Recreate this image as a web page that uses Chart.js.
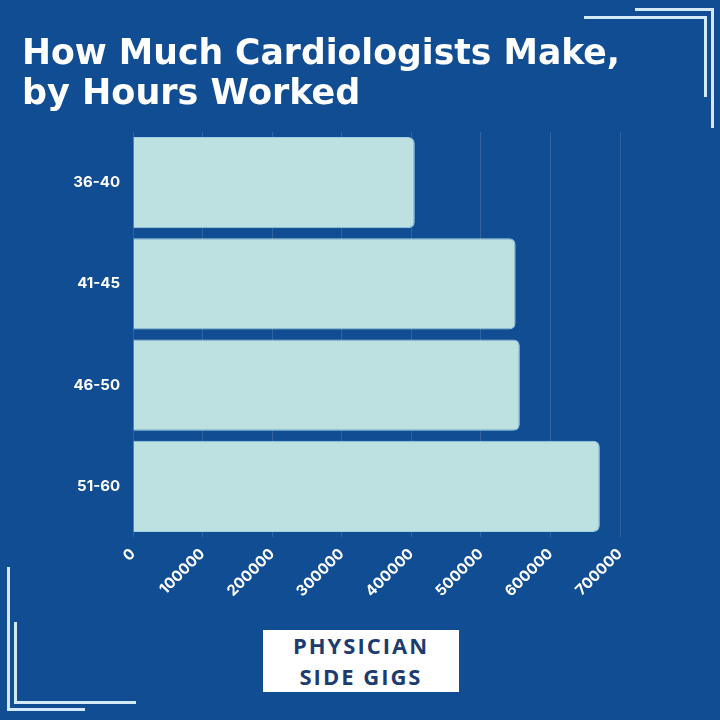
<!DOCTYPE html>
<html>
<head>
<meta charset="utf-8">
<script src="https://cdn.jsdelivr.net/npm/chart.js@4/dist/chart.umd.min.js"></script>
<style>
  html, body { margin: 0; padding: 0; }
  body { width: 720px; height: 720px; background: #114d93; position: relative; overflow: hidden; }
  #wrap { position: absolute; left: 0; top: 0; width: 720px; height: 720px; }
  .ln { position: absolute; background: #d3e9f8; }
  #logo { position: absolute; left: 263px; top: 630px; width: 196px; height: 62px; background: #ffffff;
          font-family: "Open Sans", sans-serif; font-weight: 700; font-size: 22px; color: #1c3c70;
          text-align: center; line-height: 31px; letter-spacing: 2px; box-sizing: border-box; padding-top: 0px; }
</style>
</head>
<body>
<div id="wrap"><canvas id="c" width="720" height="720"></canvas></div>
<!-- top-right corner -->
<div class="ln" style="left:635px; top:8px; width:78px; height:3px;"></div>
<div class="ln" style="left:711px; top:8px; width:3px; height:120px;"></div>
<div class="ln" style="left:584px; top:16px; width:123px; height:3px;"></div>
<div class="ln" style="left:704px; top:16px; width:3px; height:81px;"></div>
<!-- bottom-left corner -->
<div class="ln" style="left:7px; top:567px; width:3px; height:143px;"></div>
<div class="ln" style="left:7px; top:708px; width:78px; height:3px;"></div>
<div class="ln" style="left:14px; top:622px; width:3px; height:82px;"></div>
<div class="ln" style="left:14px; top:701px; width:122px; height:3px;"></div>
<div id="logo">PHYSICIAN<br>SIDE GIGS</div>
<script>
const titleLines = ["How Much Cardiologists Make,", "by Hours Worked"];
const categories = ["36-40", "41-45", "46-50", "51-60"];
const earnings = [405000, 550000, 556000, 671000];
const xTicks = [0, 100000, 200000, 300000, 400000, 500000, 600000, 700000];

const ctx = document.getElementById('c');
new Chart(ctx, {
  type: 'bar',
  data: {
    labels: categories,
    datasets: [{
      data: earnings,
      backgroundColor: '#bde1e0',
      borderColor: '#9fd0e6',
      borderWidth: 1,
      borderRadius: 6,
      borderSkipped: 'start',
      barPercentage: 0.9,
      categoryPercentage: 1.0
    }]
  },
  options: {
    indexAxis: 'y',
    responsive: false,
    animation: false,
    layout: { padding: { left: 22, right: 100, top: 0, bottom: 0 } },
    plugins: {
      legend: { display: false },
      tooltip: { enabled: false },
      title: {
        display: true,
        text: titleLines,
        align: 'start',
        color: '#ffffff',
        font: { family: 'DejaVu Sans', weight: '700', size: 35, lineHeight: 1.143 },
        padding: { top: 35, bottom: 17 }
      }
    },
    scales: {
      x: {
        type: 'linear',
        min: 0,
        max: 700000,
        afterBuildTicks: (s) => { s.ticks = xTicks.map(v => ({ value: v })); },
        afterFit: (s) => { s.height = 183; },
        grid: { color: 'rgba(255,255,255,0.13)', drawTicks: false, lineWidth: 1 },
        border: { display: false },
        ticks: {
          color: '#ffffff',
          font: { family: 'Inter', weight: '700', size: 15 },
          minRotation: 45,
          maxRotation: 45,
          padding: 8,
          autoSkip: false,
          callback: (v) => String(v)
        }
      },
      y: {
        afterFit: (s) => { s.width = 111; },
        grid: { display: false, drawTicks: false },
        border: { display: false },
        ticks: {
          color: '#ffffff',
          font: { family: 'Inter', weight: '700', size: 15 },
          padding: 13
        }
      }
    }
  }
});
</script>
</body>
</html>
